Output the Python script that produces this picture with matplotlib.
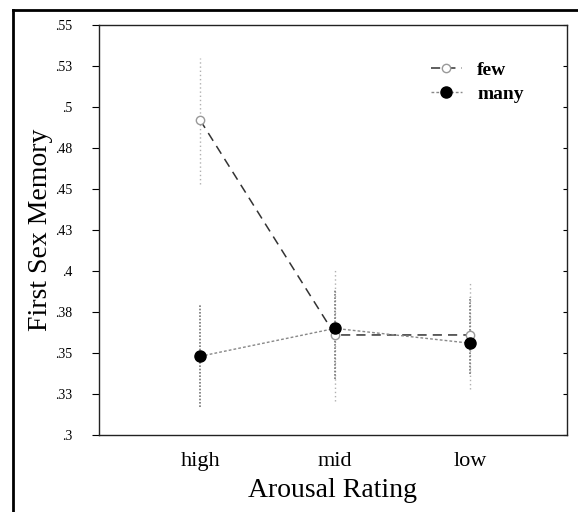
import matplotlib
matplotlib.use("Agg")
import matplotlib.pyplot as plt
from matplotlib.lines import Line2D
import matplotlib.lines as mlines
import numpy as np

categories = ["high", "mid", "low"]
few_mean = [0.492, 0.361, 0.361]
few_upper = [0.530, 0.401, 0.394]
few_lower = [0.453, 0.321, 0.328]
many_mean = [0.348, 0.365, 0.356]
many_upper = [0.380, 0.389, 0.384]
many_lower = [0.317, 0.334, 0.337]
ytick_vals = [0.3, 0.325, 0.35, 0.375, 0.4, 0.425, 0.45, 0.475, 0.5, 0.525, 0.55]
ytick_labels = [".3", ".33", ".35", ".38", ".4", ".43", ".45", ".48", ".5", ".53", ".55"]

plt.rcParams['font.family'] = ['Liberation Serif', 'DejaVu Serif']

fig = plt.figure(figsize=(5.78, 5.12), dpi=100)
ax = fig.add_axes([99/578, 77/512, 468/578, 410/512])

x = np.arange(1, len(categories) + 1)

# error bars
for i in range(len(x)):
    ax.plot([x[i], x[i]], [few_lower[i], few_upper[i]], color='#b0b0b0', lw=1, ls=(0, (1, 2)))
    ax.plot([x[i], x[i]], [many_lower[i], many_upper[i]], color='#777777', lw=1.2, ls=(0, (1, 1)))

ax.plot(x, few_mean, color='#333333', lw=1.1, ls=(0, (6, 4)), marker='o', ms=6,
        mfc='white', mec='#999999', label='few')
ax.plot(x, many_mean, color='#888888', lw=1.0, ls=(0, (2, 1.5)), marker='o', ms=8,
        mfc='black', mec='black', label='many', zorder=5)

ax.set_xlim(0.25, 3.72)
ax.set_ylim(0.3, 0.55)
ax.set_xticks(x)
ax.set_xticklabels(categories, fontsize=16)
ax.set_yticks(ytick_vals)
ax.set_yticklabels(ytick_labels, fontsize=10)
ax.tick_params(axis='x', length=0, pad=12)
ax.tick_params(axis='y', direction='out', length=5, width=0.8, pad=14, right=True)
for t in ax.yaxis.get_major_ticks():
    t.tick2line.set_marker(mlines.TICKLEFT)
    t.tick2line.set_markersize(3)
for s in ax.spines.values():
    s.set_linewidth(1.0)
    s.set_color('#222222')

ax.set_xlabel("Arousal Rating", fontsize=20, labelpad=5)
ax.set_ylabel("First Sex Memory", fontsize=20, labelpad=2)

leg = ax.legend(loc='upper right', bbox_to_anchor=(0.945, 0.955), frameon=False,
                prop={'weight': 'bold', 'size': 14}, handlelength=1.6, handletextpad=0.8,
                labelspacing=0.35)

# outer frame lines (scan border)
fig.add_artist(Line2D([13/578, 1.0], [1 - 10/512, 1 - 10/512], color='black', lw=2, transform=fig.transFigure))
fig.add_artist(Line2D([13/578, 13/578], [0, 1 - 10/512], color='black', lw=2, transform=fig.transFigure))

fig.savefig("out.png", dpi=100)
